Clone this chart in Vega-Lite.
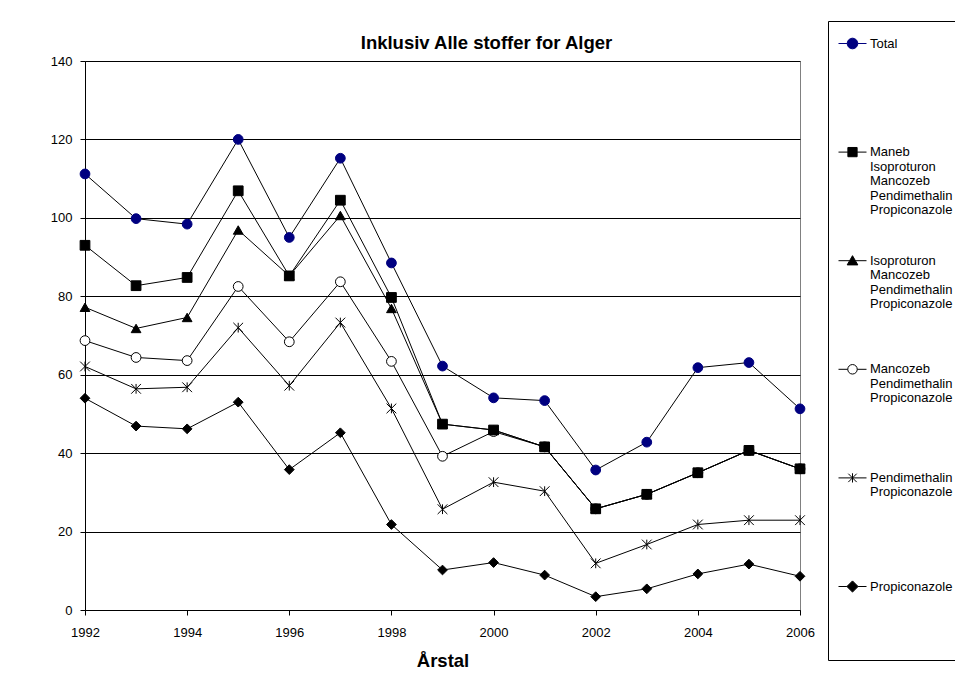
{
  "$schema": "https://vega.github.io/schema/vega-lite/v6.json",
  "width": 715,
  "height": 549,
  "autosize": {"type": "none"},
  "padding": {"left": 85, "top": 61, "right": 155, "bottom": 65},
  "background": "white",
  "config": {
    "font": "Liberation Sans",
    "view": {"stroke": "#808080", "strokeWidth": 1},
    "axis": {
      "domainColor": "black",
      "tickColor": "black",
      "labelColor": "black",
      "titleColor": "black",
      "labelFont": "Liberation Sans",
      "titleFont": "Liberation Sans"
    }
  },
  "title": {
    "text": "Inklusiv Alle stoffer for Alger",
    "font": "Liberation Sans",
    "fontSize": 18.5,
    "fontWeight": "bold",
    "color": "black",
    "anchor": "middle",
    "dx": 44,
    "dy": 38,
    "offset": 6
  },
  "data": {
    "values": [
      {"year": 1992, "series": "Propiconazole", "value": 54.0},
      {"year": 1993, "series": "Propiconazole", "value": 46.9},
      {"year": 1994, "series": "Propiconazole", "value": 46.2},
      {"year": 1995, "series": "Propiconazole", "value": 53.0},
      {"year": 1996, "series": "Propiconazole", "value": 35.8},
      {"year": 1997, "series": "Propiconazole", "value": 45.2},
      {"year": 1998, "series": "Propiconazole", "value": 21.8},
      {"year": 1999, "series": "Propiconazole", "value": 10.2},
      {"year": 2000, "series": "Propiconazole", "value": 12.1},
      {"year": 2001, "series": "Propiconazole", "value": 8.9},
      {"year": 2002, "series": "Propiconazole", "value": 3.4},
      {"year": 2003, "series": "Propiconazole", "value": 5.4},
      {"year": 2004, "series": "Propiconazole", "value": 9.2},
      {"year": 2005, "series": "Propiconazole", "value": 11.7},
      {"year": 2006, "series": "Propiconazole", "value": 8.6},
      {"year": 1992, "series": "Pendimethalin, Propiconazole", "value": 62.1},
      {"year": 1993, "series": "Pendimethalin, Propiconazole", "value": 56.4},
      {"year": 1994, "series": "Pendimethalin, Propiconazole", "value": 56.8},
      {"year": 1995, "series": "Pendimethalin, Propiconazole", "value": 72.0},
      {"year": 1996, "series": "Pendimethalin, Propiconazole", "value": 57.2},
      {"year": 1997, "series": "Pendimethalin, Propiconazole", "value": 73.3},
      {"year": 1998, "series": "Pendimethalin, Propiconazole", "value": 51.4},
      {"year": 1999, "series": "Pendimethalin, Propiconazole", "value": 25.7},
      {"year": 2000, "series": "Pendimethalin, Propiconazole", "value": 32.6},
      {"year": 2001, "series": "Pendimethalin, Propiconazole", "value": 30.3},
      {"year": 2002, "series": "Pendimethalin, Propiconazole", "value": 11.9},
      {"year": 2003, "series": "Pendimethalin, Propiconazole", "value": 16.7},
      {"year": 2004, "series": "Pendimethalin, Propiconazole", "value": 21.8},
      {"year": 2005, "series": "Pendimethalin, Propiconazole", "value": 22.9},
      {"year": 2006, "series": "Pendimethalin, Propiconazole", "value": 22.9},
      {"year": 1992, "series": "Mancozeb, Pendimethalin, Propiconazole", "value": 68.7},
      {"year": 1993, "series": "Mancozeb, Pendimethalin, Propiconazole", "value": 64.4},
      {"year": 1994, "series": "Mancozeb, Pendimethalin, Propiconazole", "value": 63.6},
      {"year": 1995, "series": "Mancozeb, Pendimethalin, Propiconazole", "value": 82.5},
      {"year": 1996, "series": "Mancozeb, Pendimethalin, Propiconazole", "value": 68.4},
      {"year": 1997, "series": "Mancozeb, Pendimethalin, Propiconazole", "value": 83.7},
      {"year": 1998, "series": "Mancozeb, Pendimethalin, Propiconazole", "value": 63.4},
      {"year": 1999, "series": "Mancozeb, Pendimethalin, Propiconazole", "value": 39.2},
      {"year": 2000, "series": "Mancozeb, Pendimethalin, Propiconazole", "value": 45.5},
      {"year": 2001, "series": "Mancozeb, Pendimethalin, Propiconazole", "value": 41.6},
      {"year": 2002, "series": "Mancozeb, Pendimethalin, Propiconazole", "value": 25.8},
      {"year": 2003, "series": "Mancozeb, Pendimethalin, Propiconazole", "value": 29.5},
      {"year": 2004, "series": "Mancozeb, Pendimethalin, Propiconazole", "value": 35.0},
      {"year": 2005, "series": "Mancozeb, Pendimethalin, Propiconazole", "value": 40.7},
      {"year": 2006, "series": "Mancozeb, Pendimethalin, Propiconazole", "value": 36.0},
      {"year": 1992, "series": "Isoproturon, Mancozeb, Pendimethalin, Propiconazole", "value": 77.2},
      {"year": 1993, "series": "Isoproturon, Mancozeb, Pendimethalin, Propiconazole", "value": 71.8},
      {"year": 1994, "series": "Isoproturon, Mancozeb, Pendimethalin, Propiconazole", "value": 74.6},
      {"year": 1995, "series": "Isoproturon, Mancozeb, Pendimethalin, Propiconazole", "value": 96.9},
      {"year": 1996, "series": "Isoproturon, Mancozeb, Pendimethalin, Propiconazole", "value": 85.2},
      {"year": 1997, "series": "Isoproturon, Mancozeb, Pendimethalin, Propiconazole", "value": 100.6},
      {"year": 1998, "series": "Isoproturon, Mancozeb, Pendimethalin, Propiconazole", "value": 76.9},
      {"year": 1999, "series": "Isoproturon, Mancozeb, Pendimethalin, Propiconazole", "value": 47.4},
      {"year": 2000, "series": "Isoproturon, Mancozeb, Pendimethalin, Propiconazole", "value": 45.9},
      {"year": 2001, "series": "Isoproturon, Mancozeb, Pendimethalin, Propiconazole", "value": 41.6},
      {"year": 2002, "series": "Isoproturon, Mancozeb, Pendimethalin, Propiconazole", "value": 25.8},
      {"year": 2003, "series": "Isoproturon, Mancozeb, Pendimethalin, Propiconazole", "value": 29.5},
      {"year": 2004, "series": "Isoproturon, Mancozeb, Pendimethalin, Propiconazole", "value": 35.0},
      {"year": 2005, "series": "Isoproturon, Mancozeb, Pendimethalin, Propiconazole", "value": 40.7},
      {"year": 2006, "series": "Isoproturon, Mancozeb, Pendimethalin, Propiconazole", "value": 36.0},
      {"year": 1992, "series": "Maneb, Isoproturon, Mancozeb, Pendimethalin, Propiconazole", "value": 93.0},
      {"year": 1993, "series": "Maneb, Isoproturon, Mancozeb, Pendimethalin, Propiconazole", "value": 82.7},
      {"year": 1994, "series": "Maneb, Isoproturon, Mancozeb, Pendimethalin, Propiconazole", "value": 84.8},
      {"year": 1995, "series": "Maneb, Isoproturon, Mancozeb, Pendimethalin, Propiconazole", "value": 106.9},
      {"year": 1996, "series": "Maneb, Isoproturon, Mancozeb, Pendimethalin, Propiconazole", "value": 85.2},
      {"year": 1997, "series": "Maneb, Isoproturon, Mancozeb, Pendimethalin, Propiconazole", "value": 104.5},
      {"year": 1998, "series": "Maneb, Isoproturon, Mancozeb, Pendimethalin, Propiconazole", "value": 79.7},
      {"year": 1999, "series": "Maneb, Isoproturon, Mancozeb, Pendimethalin, Propiconazole", "value": 47.4},
      {"year": 2000, "series": "Maneb, Isoproturon, Mancozeb, Pendimethalin, Propiconazole", "value": 45.9},
      {"year": 2001, "series": "Maneb, Isoproturon, Mancozeb, Pendimethalin, Propiconazole", "value": 41.6},
      {"year": 2002, "series": "Maneb, Isoproturon, Mancozeb, Pendimethalin, Propiconazole", "value": 25.8},
      {"year": 2003, "series": "Maneb, Isoproturon, Mancozeb, Pendimethalin, Propiconazole", "value": 29.5},
      {"year": 2004, "series": "Maneb, Isoproturon, Mancozeb, Pendimethalin, Propiconazole", "value": 35.0},
      {"year": 2005, "series": "Maneb, Isoproturon, Mancozeb, Pendimethalin, Propiconazole", "value": 40.7},
      {"year": 2006, "series": "Maneb, Isoproturon, Mancozeb, Pendimethalin, Propiconazole", "value": 36.0},
      {"year": 1992, "series": "Total", "value": 111.2},
      {"year": 1993, "series": "Total", "value": 99.8},
      {"year": 1994, "series": "Total", "value": 98.4},
      {"year": 1995, "series": "Total", "value": 120.0},
      {"year": 1996, "series": "Total", "value": 95.0},
      {"year": 1997, "series": "Total", "value": 115.2},
      {"year": 1998, "series": "Total", "value": 88.5},
      {"year": 1999, "series": "Total", "value": 62.2},
      {"year": 2000, "series": "Total", "value": 54.1},
      {"year": 2001, "series": "Total", "value": 53.4},
      {"year": 2002, "series": "Total", "value": 35.7},
      {"year": 2003, "series": "Total", "value": 42.8},
      {"year": 2004, "series": "Total", "value": 61.8},
      {"year": 2005, "series": "Total", "value": 63.1},
      {"year": 2006, "series": "Total", "value": 51.3}
    ]
  },
  "encoding": {
    "x": {
      "field": "year",
      "type": "quantitative",
      "scale": {"domain": [1992, 2006], "nice": false, "zero": false},
      "axis": {
        "values": [1992, 1994, 1996, 1998, 2000, 2002, 2004, 2006],
        "format": "d",
        "grid": false,
        "tickSize": 5,
        "labelPadding": 11,
        "labelFontSize": 13,
        "labelFlush": false,
        "labelOverlap": false,
        "title": "Årstal",
        "titleFontSize": 18.5,
        "titleFontWeight": "bold",
        "titlePadding": 12
      }
    },
    "y": {
      "field": "value",
      "type": "quantitative",
      "scale": {"domain": [0, 140], "nice": false},
      "axis": {
        "values": [0, 20, 40, 60, 80, 100, 120, 140],
        "grid": true,
        "gridColor": "black",
        "gridOpacity": 1,
        "gridWidth": 1,
        "tickSize": 5,
        "labelPadding": 8,
        "labelFontSize": 13,
        "title": null
      }
    }
  },
  "resolve": {
    "scale": {"shape": "independent", "fill": "independent", "stroke": "independent"},
    "legend": {"shape": "independent", "fill": "independent", "stroke": "independent"}
  },
  "layer": [
    {
      "mark": {"type": "line", "color": "black", "strokeWidth": 1},
      "encoding": {"detail": {"field": "series", "type": "nominal"}}
    },
    {
      "mark": {"type": "point", "filled": true, "opacity": 1, "strokeWidth": 1, "size": 95},
      "encoding": {
        "shape": {
          "field": "series",
          "type": "nominal",
          "scale": {
            "domain": [
              "Total",
              "Maneb, Isoproturon, Mancozeb, Pendimethalin, Propiconazole",
              "Isoproturon, Mancozeb, Pendimethalin, Propiconazole",
              "Mancozeb, Pendimethalin, Propiconazole",
              "Pendimethalin, Propiconazole",
              "Propiconazole"
            ],
            "range": ["circle", "square", "triangle-up", "circle", "M0,-1V1M-1,-1L1,1M-1,1L1,-1", "diamond"]
          },
          "legend": null
        },
        "fill": {
          "field": "series",
          "type": "nominal",
          "scale": {
            "domain": [
              "Total",
              "Maneb, Isoproturon, Mancozeb, Pendimethalin, Propiconazole",
              "Isoproturon, Mancozeb, Pendimethalin, Propiconazole",
              "Mancozeb, Pendimethalin, Propiconazole",
              "Pendimethalin, Propiconazole",
              "Propiconazole"
            ],
            "range": ["#000080", "black", "black", "white", "black", "black"]
          },
          "legend": null
        },
        "stroke": {
          "field": "series",
          "type": "nominal",
          "scale": {
            "domain": [
              "Total",
              "Maneb, Isoproturon, Mancozeb, Pendimethalin, Propiconazole",
              "Isoproturon, Mancozeb, Pendimethalin, Propiconazole",
              "Mancozeb, Pendimethalin, Propiconazole",
              "Pendimethalin, Propiconazole",
              "Propiconazole"
            ],
            "range": ["#000080", "black", "black", "black", "black", "black"]
          },
          "legend": null
        }
      }
    },
    {
      "transform": [{"filter": "datum.value < 0"}],
      "mark": {"type": "point", "filled": true, "opacity": 1, "strokeWidth": 1},
      "encoding": {
        "shape": {
          "field": "series",
          "type": "nominal",
          "scale": {
            "domain": [
              "Total",
              "Maneb, Isoproturon, Mancozeb, Pendimethalin, Propiconazole",
              "Isoproturon, Mancozeb, Pendimethalin, Propiconazole",
              "Mancozeb, Pendimethalin, Propiconazole",
              "Pendimethalin, Propiconazole",
              "Propiconazole"
            ],
            "range": [
              "M-1,0H-0.38M0.38,0H1M-0.38,0A0.38,0.38,0,1,1,0.38,0A0.38,0.38,0,1,1,-0.38,0Z",
              "M-1,0H-0.33M0.33,0H1M-0.33,-0.33H0.33V0.33H-0.33Z",
              "M-1,0H-0.2M0.2,0H1M0,-0.36L0.38,0.3L-0.38,0.3Z",
              "M-1,0H-0.34M0.34,0H1M-0.34,0A0.34,0.34,0,1,1,0.34,0A0.34,0.34,0,1,1,-0.34,0Z",
              "M-1,0H1M0,-0.33V0.33M-0.3,-0.3L0.3,0.3M-0.3,0.3L0.3,-0.3",
              "M-1,0H-0.4M0.4,0H1M0,-0.4L0.4,0L0,0.4L-0.4,0Z"
            ]
          },
          "legend": {
            "title": null,
            "orient": "none",
            "legendX": 743,
            "legendY": -40,
            "direction": "vertical",
            "padding": 8,
            "strokeColor": "black",
            "fillColor": "white",
            "symbolSize": 784,
            "symbolStrokeWidth": 1,
            "symbolOffset": 2,
            "labelOffset": 3,
            "labelFont": "Liberation Sans",
            "labelFontSize": 13,
            "labelColor": "black",
            "labelBaseline": "alphabetic",
            "labelLimit": 200,
            "gridAlign": "all",
            "rowPadding": 28.6,
            "labelExpr": "datum.index == 5 ? [datum.label, '', '', '', ''] : split(datum.label, ', ')",
            "encoding": {
              "labels": {
                "dy": {"value": 4},
                "lineHeight": {"value": 14.5}
              }
            }
          }
        },
        "fill": {
          "field": "series",
          "type": "nominal",
          "scale": {
            "domain": [
              "Total",
              "Maneb, Isoproturon, Mancozeb, Pendimethalin, Propiconazole",
              "Isoproturon, Mancozeb, Pendimethalin, Propiconazole",
              "Mancozeb, Pendimethalin, Propiconazole",
              "Pendimethalin, Propiconazole",
              "Propiconazole"
            ],
            "range": ["#000080", "black", "black", "white", "black", "black"]
          },
          "legend": null
        },
        "stroke": {
          "field": "series",
          "type": "nominal",
          "scale": {
            "domain": [
              "Total",
              "Maneb, Isoproturon, Mancozeb, Pendimethalin, Propiconazole",
              "Isoproturon, Mancozeb, Pendimethalin, Propiconazole",
              "Mancozeb, Pendimethalin, Propiconazole",
              "Pendimethalin, Propiconazole",
              "Propiconazole"
            ],
            "range": ["#000080", "black", "black", "black", "black", "black"]
          },
          "legend": null
        }
      }
    }
  ]
}
